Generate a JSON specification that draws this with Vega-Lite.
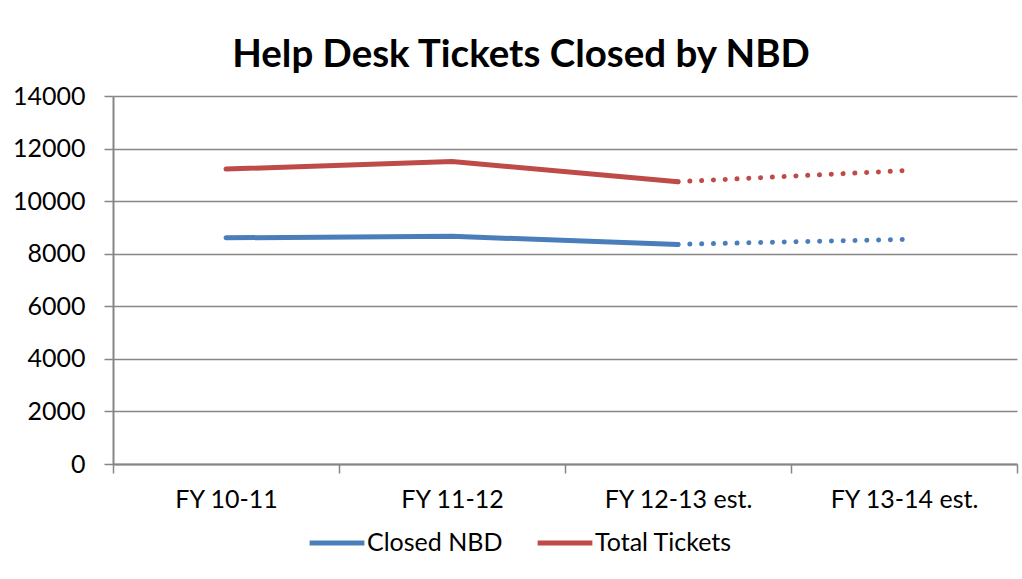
{
  "$schema": "https://vega.github.io/schema/vega-lite/v6.json",
  "width": 904,
  "height": 368,
  "autosize": {"type": "none"},
  "padding": {"left": 113, "top": 96, "right": 5, "bottom": 115},
  "background": "white",
  "title": {
    "text": "Help Desk Tickets Closed by NBD",
    "font": "Lato",
    "fontSize": 38.5,
    "fontWeight": "bold",
    "color": "#000000",
    "anchor": "middle",
    "frame": "group",
    "dx": -44,
    "offset": 9
  },
  "data": {
    "values": [
      {"series": "Closed NBD", "period": "FY 10-11", "value": 8605, "segment": "actual"},
      {"series": "Closed NBD", "period": "FY 11-12", "value": 8660, "segment": "actual"},
      {"series": "Closed NBD", "period": "FY 12-13 est.", "value": 8355, "segment": "actual"},
      {"series": "Closed NBD", "period": "FY 12-13 est.", "value": 8355, "segment": "estimate"},
      {"series": "Closed NBD", "period": "FY 13-14 est.", "value": 8545, "segment": "estimate"},
      {"series": "Total Tickets", "period": "FY 10-11", "value": 11220, "segment": "actual"},
      {"series": "Total Tickets", "period": "FY 11-12", "value": 11510, "segment": "actual"},
      {"series": "Total Tickets", "period": "FY 12-13 est.", "value": 10740, "segment": "actual"},
      {"series": "Total Tickets", "period": "FY 12-13 est.", "value": 10740, "segment": "estimate"},
      {"series": "Total Tickets", "period": "FY 13-14 est.", "value": 11160, "segment": "estimate"}
    ]
  },
  "encoding": {
    "x": {
      "field": "period",
      "type": "nominal",
      "sort": ["FY 10-11", "FY 11-12", "FY 12-13 est.", "FY 13-14 est."],
      "scale": {"type": "band", "paddingInner": 0, "paddingOuter": 0},
      "axis": {
        "title": null,
        "labelAngle": 0,
        "tickBand": "extent",
        "grid": false,
        "domainColor": "#868686",
        "domainWidth": 2,
        "tickColor": "#868686",
        "tickWidth": 1.5,
        "tickSize": 9,
        "labelPadding": 14,
        "labelFont": "Lato",
        "labelFontSize": 25,
        "labelColor": "#000000"
      }
    },
    "y": {
      "field": "value",
      "type": "quantitative",
      "scale": {"domain": [0, 14000], "nice": false},
      "axis": {
        "title": null,
        "format": "d",
        "values": [0, 2000, 4000, 6000, 8000, 10000, 12000, 14000],
        "grid": true,
        "gridColor": "#868686",
        "gridWidth": 1.5,
        "domainColor": "#868686",
        "domainWidth": 2,
        "tickColor": "#868686",
        "tickWidth": 1.5,
        "tickSize": 9,
        "labelPadding": 19,
        "labelFont": "Lato",
        "labelFontSize": 25,
        "labelColor": "#000000"
      }
    },
    "color": {
      "field": "series",
      "type": "nominal",
      "scale": {"domain": ["Closed NBD", "Total Tickets"], "range": ["#4A7EBB", "#BE4B48"]},
      "legend": {
        "title": null,
        "orient": "none",
        "direction": "horizontal",
        "legendX": 194,
        "legendY": 417,
        "symbolType": "stroke",
        "symbolSize": 3000,
        "symbolStrokeWidth": 5,
        "labelFont": "Lato",
        "labelFontSize": 25,
        "labelColor": "#000000",
        "labelOffset": 0,
        "columnPadding": 24
      }
    }
  },
  "layer": [
    {
      "transform": [{"filter": "datum.segment === 'actual'"}],
      "mark": {"type": "line", "strokeWidth": 5, "strokeCap": "round", "strokeJoin": "round"}
    },
    {
      "transform": [{"filter": "datum.segment === 'estimate'"}],
      "mark": {"type": "line", "strokeWidth": 5, "strokeCap": "round", "strokeDash": [0.1, 11.7]}
    }
  ],
  "config": {
    "view": {"stroke": null}
  }
}
